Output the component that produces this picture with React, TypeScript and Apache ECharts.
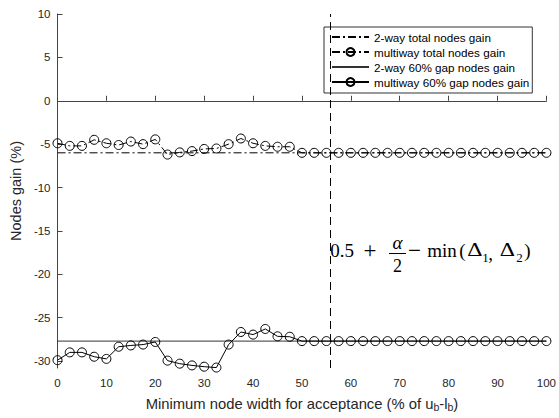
import React, { useEffect, useRef } from 'react';
import * as echarts from 'echarts';

// ---------- data ----------
const xValues = [0, 2.5, 5, 7.5, 10, 12.5, 15, 17.5, 20, 22.5, 25, 27.5, 30, 32.5, 35, 37.5, 40, 42.5, 45, 47.5,
  50, 52.5, 55, 57.5, 60, 62.5, 65, 67.5, 70, 72.5, 75, 77.5, 80, 82.5, 85, 87.5, 90, 92.5, 95, 97.5, 100];

const multiwayTotal = [-4.9, -5.2, -5.2, -4.5, -4.9, -5.1, -4.7, -5.0, -4.45, -6.2, -5.95, -5.8, -5.55, -5.5, -5.0, -4.35, -4.9, -5.2, -5.3, -5.3,
  -6.0, -6.0, -6.0, -6.0, -6.0, -6.0, -6.0, -6.0, -6.0, -6.0, -6.0, -6.0, -6.0, -6.0, -6.0, -6.0, -6.0, -6.0, -6.0, -6.0, -6.0];

const multiwayGap = [-29.9, -29.0, -29.0, -29.5, -29.75, -28.35, -28.2, -28.1, -27.8, -29.95, -30.3, -30.5, -30.65, -30.75, -28.1, -26.65, -26.95, -26.3, -27.15, -27.2,
  -27.7, -27.7, -27.7, -27.7, -27.7, -27.7, -27.7, -27.7, -27.7, -27.7, -27.7, -27.7, -27.7, -27.7, -27.7, -27.7, -27.7, -27.7, -27.7, -27.7, -27.7];

const twoWayTotal = [-6.0, -6.0];
const twoWayGap = [-27.7, -27.7];
const twoWayX = [0, 100];

const thresholdX = 55.8;

const seriesNames = [
  '2-way total nodes gain',
  'multiway total nodes gain',
  '2-way 60% gap nodes gain',
  'multiway 60% gap nodes gain',
];

const yTicks = [-30, -25, -20, -15, -10, -5, 0, 5, 10];
const yMin = -30.8;
const yMax = 10;

// ---------- styles ----------
const SANS = '"Liberation Sans", Arial, Helvetica, sans-serif';
const SERIF = '"Liberation Serif", "Times New Roman", serif';
const DASHDOT = [8, 3, 2, 3];

function mathText(text: string, cx: number, cy: number, size: number, italic = false, scaleX = 1) {
  return {
    type: 'text',
    x: cx,
    y: cy,
    scaleX,
    silent: true,
    style: {
      text,
      fill: '#000',
      fontSize: size,
      fontFamily: SERIF,
      fontStyle: italic ? 'italic' : 'normal',
      align: 'center',
      verticalAlign: 'middle',
      textAlign: 'center',
      textVerticalAlign: 'middle',
    },
  };
}

export default function App() {
  const ref = useRef<HTMLDivElement>(null);

  useEffect(() => {
    if (!ref.current) return;
    const chart = echarts.init(ref.current, undefined, { renderer: 'svg' });

    const circleItem = {
      color: 'rgba(0,0,0,0)',
      borderColor: '#000',
      borderWidth: 1,
    };
    const noSymbolItem = {
      color: 'rgba(0,0,0,0)',
      borderColor: 'rgba(0,0,0,0)',
      borderWidth: 0,
    };

    const option: any = {
      animation: false,
      backgroundColor: '#fff',
      grid: { left: 54, right: 10, top: 14, bottom: 50, containLabel: false },
      xAxis: {
        type: 'value',
        min: 0,
        max: 100,
        interval: 10,
        name: 'Minimum node width for acceptance (% of u{s|b}-l{s|b})',
        nameLocation: 'middle',
        nameGap: 27,
        nameTextStyle: {
          fontFamily: SANS,
          fontSize: 14.8,
          color: '#262626',
          lineHeight: 17,
          rich: {
            s: { fontFamily: SANS, fontSize: 10.5, color: '#262626', verticalAlign: 'bottom', lineHeight: 9 },
          },
        },
        axisLine: { lineStyle: { color: '#444', width: 1 } },
        axisTick: { inside: true, length: 5, lineStyle: { color: '#444' } },
        axisLabel: { fontFamily: SANS, fontSize: 11.5, color: '#262626', margin: 9 },
        splitLine: { show: false },
      },
      yAxis: {
        type: 'value',
        min: yMin,
        max: yMax,
        name: 'Nodes gain (%)',
        nameLocation: 'middle',
        nameGap: 17,
        nameTextStyle: { fontFamily: SANS, fontSize: 14.5, color: '#262626' },
        axisLine: { show: true, lineStyle: { color: '#444', width: 1 } },
        axisTick: { show: true, inside: true, length: 5, customValues: yTicks, lineStyle: { color: '#444' } },
        axisLabel: { fontFamily: SANS, fontSize: 11.5, color: '#262626', margin: 7, customValues: yTicks },
        splitLine: { show: false },
      },
      legend: {
        orient: 'vertical',
        left: 324,
        top: 27,
        itemWidth: 37,
        itemHeight: 10,
        itemGap: 3,
        padding: [4, 3, 5, 7],
        backgroundColor: '#fff',
        borderColor: '#333',
        borderWidth: 1,
        borderRadius: 0,
        textStyle: { fontFamily: SANS, fontSize: 11.7, color: '#000' },
        data: seriesNames,
      },
      series: [
        {
          name: seriesNames[0],
          type: 'line',
          data: twoWayX.map((x, i) => [x, twoWayTotal[i]]),
          symbol: 'none',
          color: '#000',
          itemStyle: noSymbolItem,
          lineStyle: { color: '#000', width: 1, type: DASHDOT },
          markLine: {
            silent: true,
            symbol: ['none', 'none'],
            label: { show: false },
            lineStyle: { color: '#000', width: 1, type: [8, 5] },
            data: [{ xAxis: thresholdX }],
          },
          z: 2,
        },
        {
          name: seriesNames[1],
          type: 'line',
          data: xValues.map((x, i) => [x, multiwayTotal[i]]),
          symbol: 'circle',
          symbolSize: 9,
          color: '#000',
          itemStyle: circleItem,
          lineStyle: { color: '#000', width: 1, type: DASHDOT },
          z: 3,
        },
        {
          name: seriesNames[2],
          type: 'line',
          data: twoWayX.map((x, i) => [x, twoWayGap[i]]),
          symbol: 'none',
          color: '#000',
          itemStyle: noSymbolItem,
          lineStyle: { color: '#333', width: 1, type: 'solid' },
          z: 2,
        },
        {
          name: seriesNames[3],
          type: 'line',
          data: xValues.map((x, i) => [x, multiwayGap[i]]),
          symbol: 'circle',
          symbolSize: 9,
          color: '#000',
          itemStyle: circleItem,
          lineStyle: { color: '#000', width: 1, type: 'solid' },
          z: 3,
        },
      ],
      graphic: [
        mathText('0.5', 342, 250, 19),
        mathText('+', 370, 250, 23),
        mathText('α', 397.5, 242, 19, true),
        {
          type: 'line',
          silent: true,
          shape: { x1: 389, y1: 253.5, x2: 406, y2: 253.5 },
          style: { stroke: '#000', lineWidth: 1 },
        },
        mathText('2', 397.5, 266, 18),
        mathText('−', 414.5, 250, 23),
        mathText('min', 442, 250, 19),
        mathText('(', 462.5, 250, 19),
        mathText('Δ', 475, 250, 19, false, 1.25),
        mathText('1', 485.5, 257, 13),
        mathText(',', 490.5, 253, 19),
        mathText('Δ', 507.5, 250, 19, false, 1.25),
        mathText('2', 519.5, 257, 13),
        mathText(')', 527.5, 250, 19),
      ],
    };

    chart.setOption(option);
    return () => chart.dispose();
  }, []);

  return <div ref={ref} style={{ width: 559, height: 418, position: 'absolute', left: 0, top: 0 }} />;
}
